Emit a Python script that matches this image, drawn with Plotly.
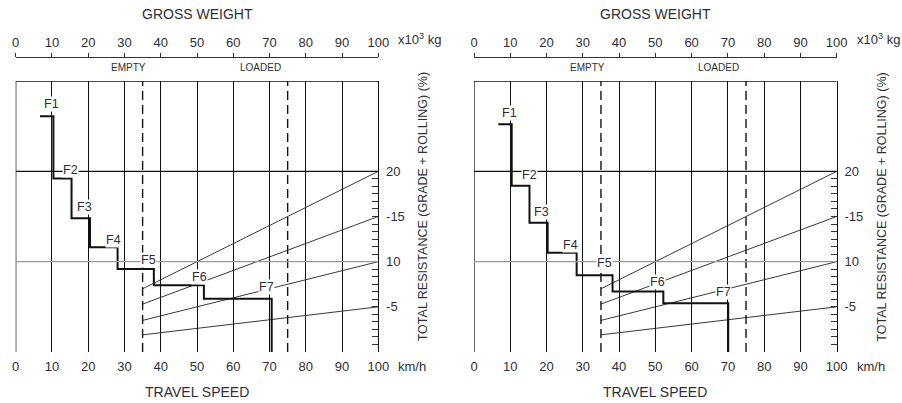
import plotly.graph_objects as go

# ---------------- data ----------------
speed_ticks = [0, 10, 20, 30, 40, 50, 60, 70, 80, 90, 100]
weight_ticks = [0, 10, 20, 30, 40, 50, 60, 70, 80, 90, 100]
resist_tickvals = [5, 10, 15, 20]
resist_ticktext = ["-5", "10", "-15", "20"]
resist_minor = [k * 5 / 6 for k in range(1, 24)]

empty_weight = 35
loaded_weight = 75

# resistance lines (start at empty weight, end at 100 x10^3 kg)
res_line_x = [35, 100]
res_line_start = [7.0, 5.3, 3.5, 1.9]
res_line_end = [20, 15, 10, 5]

gears = ["F1", "F2", "F3", "F4", "F5", "F6", "F7"]

# left chart: step points (speed, resistance)
left_speed = [6.7, 10.4, 15.4, 20.5, 28.1, 38.1, 51.9, 70.6]
left_res = [26.1, 19.2, 14.8, 11.6, 9.2, 7.4, 5.9, 0]
left_lab_x = [9.9, 15.0, 19.1, 26.9, 36.6, 50.6, 69.2]
left_lab_y = [27.4, 20.2, 16.0, 12.4, 10.2, 8.3, 7.2]

# right chart
right_speed = [6.7, 10.4, 15.3, 20.3, 28.3, 38.2, 52.2, 70.1]
right_res = [25.2, 18.4, 14.3, 11.0, 8.5, 6.7, 5.4, 0]
right_lab_x = [9.9, 15.4, 18.7, 26.7, 36.1, 50.5, 68.9]
right_lab_y = [26.5, 19.6, 15.5, 11.9, 9.8, 7.8, 6.6]

hlines_y = [20, 10]
hlines_color = ["#111111", "#9a9a9a"]

W, H = 902, 403
TXT = "#2e2e38"
FONT = "Liberation Sans, Arial, sans-serif"

panels = [
    dict(dom=[15.7 / W, 378.3 / W], sx=left_speed, sy=left_res, lx=left_lab_x, ly=left_lab_y),
    dict(dom=[474 / W, 836.7 / W], sx=right_speed, sy=right_res, lx=right_lab_x, ly=right_lab_y),
]
ydom = [1 - 352 / H, 1 - 81 / H]

fig = go.Figure()
layout = dict(
    width=W, height=H, margin=dict(l=0, r=0, t=0, b=0, autoexpand=False),
    paper_bgcolor="white", plot_bgcolor="white", showlegend=False,
    font=dict(family=FONT, color=TXT, size=12),
    shapes=[], annotations=[],
)


def ann(x, y, text, size, **kw):
    d = dict(x=x, y=y, xref="paper", yref="paper", text=text, showarrow=False,
             xanchor="center", yanchor="middle", font=dict(size=size, color=TXT))
    d.update(kw)
    return d


for i, p in enumerate(panels):
    n = i + 1
    xa = "x" if n == 1 else f"x{n}"
    ya = "y" if n == 1 else f"y{n}"
    xtop = f"x{n + 2}"
    yright = f"y{n + 2}"

    # main axes
    layout[f"xaxis{'' if n == 1 else n}"] = dict(
        domain=p["dom"], anchor=ya, range=[0, 100],
        tickmode="array", tickvals=speed_ticks,
        showgrid=True, gridcolor="#111111", gridwidth=1.3,
        zeroline=False, showline=False, ticks="",
        ticklabelstandoff=5, tickfont=dict(size=13, color=TXT),
    )
    layout[f"yaxis{'' if n == 1 else n}"] = dict(
        domain=ydom, anchor=xa, range=[0, 30],
        showgrid=False, zeroline=False, showline=False,
        showticklabels=False, ticks="",
    )
    # top gross weight axis
    layout[f"xaxis{n + 2}"] = dict(
        domain=p["dom"], overlaying=xa, anchor="free",
        position=1 - 57 / H, side="top", range=[0, 100],
        tickmode="array", tickvals=weight_ticks,
        showgrid=False, zeroline=False, showline=True,
        linecolor="#333333", linewidth=1.3,
        ticks="outside", ticklen=4, tickcolor="#333333",
        ticklabelstandoff=1, tickfont=dict(size=13, color=TXT),
    )
    # right resistance axis
    layout[f"yaxis{n + 2}"] = dict(
        domain=ydom, overlaying=ya, anchor=xa, side="right",
        range=[0, 30], tickmode="array",
        tickvals=resist_tickvals, ticktext=resist_ticktext,
        ticks="inside", ticklen=6, tickcolor="#333333", tickwidth=1,
        minor=dict(tickmode="array", tickvals=resist_minor, ticks="inside",
                   ticklen=6, tickcolor="#333333", tickwidth=1),
        showline=True, linecolor="#111111", linewidth=1.3,
        showgrid=False, zeroline=False,
        ticklabelstandoff=4, tickfont=dict(size=13, color=TXT),
    )
    # empty traces so the extra axes are drawn
    fig.add_trace(go.Scatter(x=[], y=[], xaxis=xtop, yaxis=ya, mode="lines", hoverinfo="skip"))
    fig.add_trace(go.Scatter(x=[], y=[], xaxis=xa, yaxis=yright, mode="lines", hoverinfo="skip"))

    # box left and top edges
    layout["shapes"].append(dict(type="line", xref=xa, yref=ya, x0=0, x1=0, y0=0, y1=30,
                                 line=dict(color="#111111", width=1.3)))
    layout["shapes"].append(dict(type="line", xref=xa, yref=ya, x0=0, x1=100, y0=30, y1=30,
                                 line=dict(color="#111111", width=1.3)))
    for hy, hc in zip(hlines_y, hlines_color):
        layout["shapes"].append(dict(type="line", xref=xa, yref=ya, x0=0, x1=100, y0=hy, y1=hy,
                                     line=dict(color=hc, width=1.3)))

    # dashed empty / loaded lines
    for wv in [empty_weight, loaded_weight]:
        fig.add_trace(go.Scatter(x=[wv, wv], y=[0, 30.3], mode="lines", xaxis=xa, yaxis=ya,
                                 line=dict(color="#111111", width=1.4, dash="9px,5px"),
                                 hoverinfo="skip", cliponaxis=False))

    # resistance lines
    for ys, ye in zip(res_line_start, res_line_end):
        fig.add_trace(go.Scatter(x=res_line_x, y=[ys, ye], mode="lines", xaxis=xa, yaxis=ya,
                                 line=dict(color="#222222", width=0.9), hoverinfo="skip"))

    # gear step curve
    fig.add_trace(go.Scatter(x=p["sx"], y=p["sy"], mode="lines", xaxis=xa, yaxis=ya,
                             line=dict(color="#111111", width=2, shape="hv"), hoverinfo="skip"))

    for g, gx, gy in zip(gears, p["lx"], p["ly"]):
        layout["annotations"].append(dict(x=gx, y=gy, xref=xa, yref=ya, text=g, showarrow=False,
                                          xanchor="center", yanchor="middle",
                                          font=dict(size=12.5, color=TXT), bgcolor="white",
                                          borderpad=0))

    x0 = p["dom"][0]
    x1 = p["dom"][1]
    wpx = (x1 - x0)

    def px(v, x0=x0, wpx=wpx):
        return x0 + wpx * v / 100

    layout["annotations"] += [
        ann(px(50), 1 - 14 / H, "GROSS WEIGHT", 14),
        ann(px(50), 1 - 392 / H, "TRAVEL SPEED", 14),
        ann(x1 + 18 / W, 1 - 39 / H, "x10<sup>3</sup> kg", 13, xanchor="left"),
        ann(x1 + 18 / W, 1 - 366 / H, "km/h", 13, xanchor="left"),
        ann(px(31.2), 1 - 67 / H, "EMPTY", 10),
        ann(px(67.5), 1 - 67 / H, "LOADED", 10),
        ann(x1 + 45 / W, 1 - 207 / H, "TOTAL RESISTANCE (GRADE + ROLLING) (%)", 12.5,
            textangle=-90),
    ]

fig.update_layout(**layout)
fig.write_html("out.html", config={"displayModeBar": False},
               post_script="document.body.style.margin='0px';")
